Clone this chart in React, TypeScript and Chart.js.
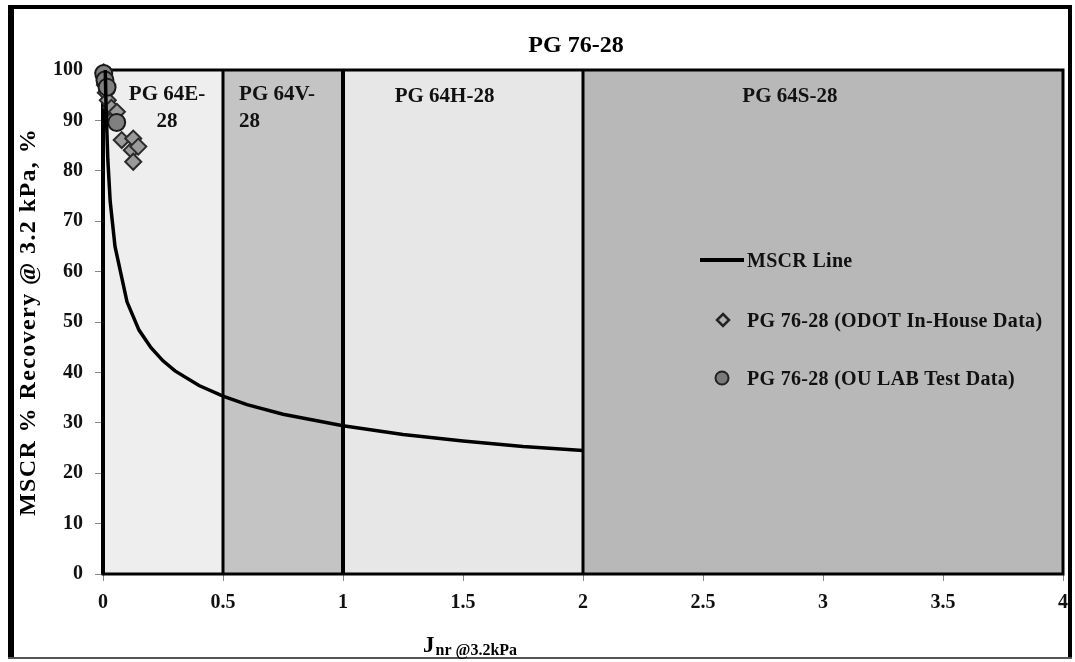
import React, { useEffect, useRef } from 'react';
import { Chart, registerables } from 'chart.js';

Chart.register(...registerables);

// MSCR line (Jnr @3.2kPa vs % recovery)
const MSCR_J = [0.0095, 0.0125, 0.02, 0.03, 0.05, 0.1, 0.15, 0.2, 0.25, 0.3, 0.4, 0.5, 0.6, 0.75, 1.0, 1.25, 1.5, 1.75, 2.0];
const MSCR_R = [100, 93.1, 82.3, 73.9, 65, 54, 48.4, 44.9, 42.3, 40.3, 37.4, 35.3, 33.6, 31.7, 29.4, 27.7, 26.4, 25.3, 24.5];

// PG 76-28 (ODOT In-House Data)
const ODOT_J = [0.003, 0.005, 0.008, 0.012, 0.02, 0.035, 0.045, 0.058, 0.078, 0.12, 0.126, 0.147, 0.126];
const ODOT_R = [99.5, 98.5, 97, 95.5, 94, 92.5, 90.5, 91.7, 86.1, 84.1, 86.4, 84.8, 81.8];

// PG 76-28 (OU LAB Test Data)
const OU_J = [0.003, 0.008, 0.017, 0.057];
const OU_R = [99.3, 98, 96.6, 89.6];

// Grade zones
const ZONE_EDGES = [0, 0.5, 1, 2, 4];
const ZONE_COLORS = ['#eeeeee', '#c4c4c4', '#e7e7e7', '#b8b8b8'];
const ZONE_LINES = [0.5, 1, 2];

const X_TICK_STEP = 0.5;
const Y_TICK_STEP = 10;

const SERIF = '"Liberation Serif", "Times New Roman", serif';

const toXY = (xs: number[], ys: number[]) => xs.map((x, i) => ({ x, y: ys[i] }));

const decorPlugin = {
  id: 'decor',
  beforeDraw(chart: any) {
    const { ctx, chartArea: a, scales } = chart;
    const xs = scales.x;
    ctx.save();
    ctx.fillStyle = '#ffffff';
    ctx.fillRect(0, 0, chart.width, chart.height);
    // outer frame
    ctx.fillStyle = '#000';
    ctx.fillRect(8, 5, 1064, 4);
    ctx.fillRect(8, 5, 6, 654);
    ctx.fillRect(1068, 5, 4, 654);
    ctx.fillStyle = '#555';
    ctx.fillRect(8, 657, 1064, 2);
    // zone backgrounds
    for (let i = 0; i < ZONE_COLORS.length; i++) {
      const x0 = xs.getPixelForValue(ZONE_EDGES[i]);
      const x1 = xs.getPixelForValue(ZONE_EDGES[i + 1]);
      ctx.fillStyle = ZONE_COLORS[i];
      ctx.fillRect(x0, a.top, x1 - x0, a.bottom - a.top);
    }
    ctx.restore();
  },
  beforeDatasetsDraw(chart: any) {
    const { ctx, chartArea: a, scales } = chart;
    const xs = scales.x;
    ctx.save();
    ctx.strokeStyle = '#000';
    ZONE_LINES.forEach((v) => {
      const px = xs.getPixelForValue(v);
      ctx.lineWidth = v === 1 ? 4 : 3;
      ctx.beginPath();
      ctx.moveTo(px, a.top);
      ctx.lineTo(px, a.bottom);
      ctx.stroke();
    });
    ctx.lineWidth = 3;
    ctx.strokeRect(a.left, a.top, a.right - a.left, a.bottom - a.top);
    ctx.fillStyle = '#000';
    ctx.fillRect(a.left - 2, a.top, 4, a.bottom - a.top);

    // zone labels
    ctx.fillStyle = '#111';
    ctx.font = `bold 21px ${SERIF}`;
    ctx.textBaseline = 'alphabetic';
    ctx.textAlign = 'center';
    ctx.fillText('PG 64E-', xs.getPixelForValue(0.267), 100);
    ctx.fillText('28', xs.getPixelForValue(0.267), 127);
    ctx.textAlign = 'left';
    ctx.fillText('PG 64V-', xs.getPixelForValue(0.567), 100);
    ctx.fillText('28', xs.getPixelForValue(0.567), 127);
    ctx.textAlign = 'center';
    ctx.fillText('PG 64H-28', xs.getPixelForValue(1.423), 102);
    ctx.fillText('PG 64S-28', xs.getPixelForValue(2.862), 102);
    ctx.restore();
  },
  afterDraw(chart: any) {
    const { ctx } = chart;
    ctx.save();
    // title
    ctx.fillStyle = '#000';
    ctx.font = `bold 24px ${SERIF}`;
    ctx.textAlign = 'center';
    ctx.textBaseline = 'alphabetic';
    ctx.fillText('PG 76-28', 576, 52);

    // y axis title
    ctx.save();
    ctx.translate(29, 322);
    ctx.rotate(-Math.PI / 2);
    ctx.font = `bold 24px ${SERIF}`;
    (ctx as any).letterSpacing = '1.4px';
    ctx.textAlign = 'center';
    ctx.textBaseline = 'middle';
    ctx.fillText('MSCR % Recovery @ 3.2 kPa, %', 0, 0);
    ctx.restore();

    // x axis title with subscript
    ctx.textAlign = 'left';
    ctx.font = `bold 23px ${SERIF}`;
    const jx = 423;
    ctx.fillText('J', jx, 652);
    const jw = ctx.measureText('J').width;
    ctx.font = `bold 16px ${SERIF}`;
    ctx.fillText('nr @3.2kPa', jx + jw + 1, 655);

    // legend
    ctx.strokeStyle = '#000';
    ctx.lineWidth = 4;
    ctx.beginPath();
    ctx.moveTo(700, 260);
    ctx.lineTo(744, 260);
    ctx.stroke();
    ctx.font = `bold 20px ${SERIF}`;
    (ctx as any).letterSpacing = '0.3px';
    ctx.fillStyle = '#111';
    ctx.fillText('MSCR Line', 747, 267);
    ctx.fillText('PG 76-28 (ODOT In-House Data)', 747, 327);
    ctx.fillText('PG 76-28 (OU LAB Test Data)', 747, 385);
    (ctx as any).letterSpacing = '0px';
    // diamond
    ctx.beginPath();
    ctx.moveTo(723, 314);
    ctx.lineTo(729, 320);
    ctx.lineTo(723, 326);
    ctx.lineTo(717, 320);
    ctx.closePath();
    ctx.fillStyle = '#b0b0b0';
    ctx.fill();
    ctx.lineWidth = 2.5;
    ctx.strokeStyle = '#222';
    ctx.stroke();
    // circle
    ctx.beginPath();
    ctx.arc(722, 378, 6.5, 0, Math.PI * 2);
    ctx.fillStyle = '#7a7a7a';
    ctx.fill();
    ctx.lineWidth = 2;
    ctx.strokeStyle = '#222';
    ctx.stroke();
    ctx.restore();
  },
};

export default function App() {
  const ref = useRef<HTMLCanvasElement | null>(null);

  useEffect(() => {
    if (!ref.current) return;
    const chart = new Chart(ref.current, {
      type: 'scatter',
      data: {
        datasets: [
          {
            label: 'MSCR Line',
            data: toXY(MSCR_J, MSCR_R),
            showLine: true,
            borderColor: '#000',
            borderWidth: 3.5,
            pointRadius: 0,
            tension: 0,
            clip: false,
          } as any,
          {
            label: 'PG 76-28 (OU LAB Test Data)',
            data: toXY(OU_J, OU_R),
            pointStyle: 'circle',
            pointRadius: 8.5,
            backgroundColor: '#808080',
            borderColor: '#1a1a1a',
            borderWidth: 2,
            clip: false,
          } as any,
          {
            label: 'PG 76-28 (ODOT In-House Data)',
            data: toXY(ODOT_J, ODOT_R),
            pointStyle: 'rectRot',
            pointRadius: 8,
            backgroundColor: '#9a9a9a',
            borderColor: '#2a2a2a',
            borderWidth: 2,
            clip: false,
          } as any,
        ],
      },
      options: {
        responsive: false,
        animation: false,
        devicePixelRatio: 1,
        layout: { padding: { top: 70, right: 12, left: 0, bottom: 0 } },
        plugins: {
          legend: { display: false },
          title: { display: false },
          tooltip: { enabled: false },
        },
        scales: {
          x: {
            type: 'linear',
            min: 0,
            max: 4,
            ticks: {
              stepSize: X_TICK_STEP,
              color: '#111',
              font: { family: SERIF, size: 20, weight: 'bold' },
              padding: 10,
              maxRotation: 0,
              callback: (v: any) => String(Math.round(Number(v) * 10) / 10),
            },
            grid: { drawOnChartArea: false, drawTicks: true, tickLength: 7, color: '#888' },
            border: { display: false },
            afterFit: (s: any) => {
              s.height = 88;
              s.paddingRight = 0;
              s.paddingLeft = 0;
            },
          },
          y: {
            type: 'linear',
            min: 0,
            max: 100,
            ticks: {
              stepSize: Y_TICK_STEP,
              color: '#111',
              font: { family: SERIF, size: 20, weight: 'bold' },
              padding: 12,
            },
            grid: { drawOnChartArea: false, drawTicks: true, tickLength: 8, color: '#888' },
            border: { display: false },
            afterFit: (s: any) => {
              s.width = 103;
              s.paddingTop = 0;
              s.paddingBottom = 0;
            },
          },
        },
      } as any,
      plugins: [decorPlugin],
    });
    return () => chart.destroy();
  }, []);

  return (
    <div style={{ position: 'fixed', left: 0, top: 0, width: 1075, height: 662 }}>
      <canvas ref={ref} width={1075} height={662} style={{ display: 'block', width: 1075, height: 662 }} />
    </div>
  );
}
